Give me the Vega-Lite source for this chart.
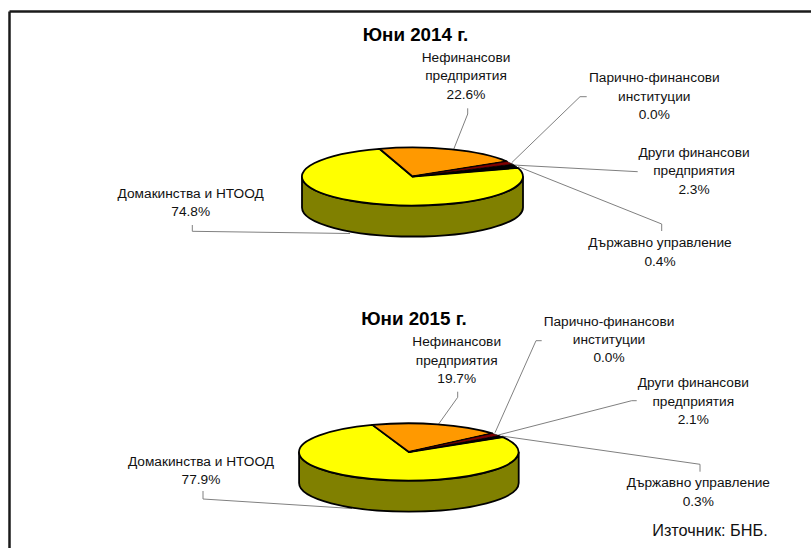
{
"$schema":"https://vega.github.io/schema/vega-lite/v6.json",
"width":802,"height":537,"autosize":{"type":"none"},"padding":{"left":9,"top":11,"right":0,"bottom":0},
"background":"white",
"config":{"view":{"stroke":null},"text":{"font":"Liberation Sans"}},
"datasets":{
"slices":[
{"id":4,"year":2014,"category":"Домакинства и НТООД","name":"Домакинства и НТООД","share":74.8},
{"id":0,"year":2014,"category":"Нефинансови предприятия","name":"Нефинансови\nпредприятия","share":22.6},
{"id":1,"year":2014,"category":"Парично-финансови институции","name":"Парично-финансови\nинституции","share":0.0},
{"id":3,"year":2014,"category":"Държавно управление","name":"Държавно управление","share":0.4},
{"id":2,"year":2014,"category":"Други финансови предприятия","name":"Други финансови\nпредприятия","share":2.3},
{"id":9,"year":2015,"category":"Домакинства и НТООД","name":"Домакинства и НТООД","share":77.9},
{"id":5,"year":2015,"category":"Нефинансови предприятия","name":"Нефинансови\nпредприятия","share":19.7},
{"id":6,"year":2015,"category":"Парично-финансови институции","name":"Парично-финансови\nинституции","share":0.0},
{"id":8,"year":2015,"category":"Държавно управление","name":"Държавно управление","share":0.3},
{"id":7,"year":2015,"category":"Други финансови предприятия","name":"Други финансови\nпредприятия","share":2.1}
],
"leaders":[
{"pt":0,"leader":"2014 Нефинансови"},{"pt":1,"leader":"2014 Нефинансови"},{"pt":2,"leader":"2014 Нефинансови"},
{"pt":3,"leader":"2014 Парично"},{"pt":4,"leader":"2014 Парично"},{"pt":5,"leader":"2014 Парично"},
{"pt":6,"leader":"2014 Други"},{"pt":7,"leader":"2014 Други"},
{"pt":8,"leader":"2014 Държавно"},{"pt":9,"leader":"2014 Държавно"},{"pt":10,"leader":"2014 Държавно"},
{"pt":11,"leader":"2014 Домакинства"},{"pt":12,"leader":"2014 Домакинства"},{"pt":13,"leader":"2014 Домакинства"},
{"pt":14,"leader":"2015 Нефинансови"},{"pt":15,"leader":"2015 Нефинансови"},{"pt":16,"leader":"2015 Нефинансови"},
{"pt":17,"leader":"2015 Парично"},{"pt":18,"leader":"2015 Парично"},{"pt":19,"leader":"2015 Парично"},
{"pt":20,"leader":"2015 Други"},{"pt":21,"leader":"2015 Други"},{"pt":22,"leader":"2015 Други"},
{"pt":23,"leader":"2015 Държавно"},{"pt":24,"leader":"2015 Държавно"},{"pt":25,"leader":"2015 Държавно"},
{"pt":26,"leader":"2015 Домакинства"},{"pt":27,"leader":"2015 Домакинства"},{"pt":28,"leader":"2015 Домакинства"}
],
"panels":[{"year":2014,"title":"Юни 2014 г."},{"year":2015,"title":"Юни 2015 г."}],
"source":[{"text":"Източник: БНБ."}]
},
"layer":[
{"data":{"name":"source"},
 "mark":{"type":"text","fontSize":16.3,"color":"#111","align":"center","baseline":"middle"},
 "encoding":{
  "x":{"datum":0.874,"type":"quantitative","scale":{"domain":[0,1]},"axis":{"orient":"top","title":null,"ticks":false,"labels":false,"grid":false,"domainColor":"#1a1a1a","domainWidth":2.5}},
  "y":{"datum":0.0317,"type":"quantitative","scale":{"domain":[0,1]},"axis":{"orient":"left","title":null,"ticks":false,"labels":false,"grid":false,"domainColor":"#1a1a1a","domainWidth":2.5}},
  "text":{"field":"text"}}},
{"data":{"name":"leaders"},
 "mark":{"type":"line","color":"#808080","strokeWidth":1,"interpolate":"linear"},
 "encoding":{
  "x":{"field":"pt","type":"quantitative","axis":null,"scale":{"nice":false,"zero":false,"domain":[0,1,2,3,4,5,6,7,8,9,10,11,12,13,14,15,16,17,18,19,20,21,22,23,24,25,26,27,28],
    "range":[458.7,458.7,444,577.7,571,502.7,628.7,504.3,652.7,652.7,509.3,183.3,183.3,341,448.7,448.7,427.5,532.7,527,486,627.7,622.7,489.3,691,691,492.7,194,194,343]}},
  "y":{"field":"pt","type":"quantitative","axis":null,"scale":{"nice":false,"zero":false,"domain":[0,1,2,3,4,5,6,7,8,9,10,11,12,13,14,15,16,17,18,19,20,21,22,23,24,25,26,27,28],
    "range":[97.3,103,140,85.7,85.7,151.7,160.7,154,220,213,155.7,214,220.3,222.5,380.7,386.3,416,329.7,329.7,421.7,389.7,389.7,424,460.7,453.3,425,480,488,497.5]}},
  "detail":{"field":"leader"},
  "order":{"field":"pt"}}},
{"data":{"name":"slices"},
 "transform":[{"filter":"datum.category === 'Домакинства и НТООД'"}],
 "mark":{"type":"point","filled":true,"opacity":1,"size":4,"fill":"#808000","stroke":"#000","strokeWidth":1.8},
 "encoding":{
  "x":{"field":"year","type":"quantitative","axis":null,"scale":{"domain":[2014,2015],"range":[403.5,399.9],"zero":false,"nice":false}},
  "y":{"field":"year","type":"quantitative","axis":null,"scale":{"domain":[2014,2015],"range":[165.5,441],"zero":false,"nice":false}},
  "shape":{"field":"year","type":"nominal","legend":null,"scale":{"domain":[2014,2015],"range":[
    "M-110.5 0A110.5 29 0 0 0 110.5 0L110.5 31A110.5 29 0 0 1 -110.5 31Z",
    "M-109.8 0A109.8 28.7 0 0 0 109.8 0L109.8 31A109.8 28.7 0 0 1 -109.8 31Z"]}}}},
{"data":{"name":"slices"},
 "mark":{"type":"point","filled":true,"opacity":1,"size":4,"stroke":"#000","strokeJoin":"round"},
 "encoding":{
  "x":{"field":"year","type":"quantitative","axis":null,"scale":{"domain":[2014,2015],"range":[403.5,399.9],"zero":false,"nice":false}},
  "y":{"field":"year","type":"quantitative","axis":null,"scale":{"domain":[2014,2015],"range":[165.5,441],"zero":false,"nice":false}},
  "color":{"field":"category","type":"nominal","legend":null,"scale":{"domain":["Нефинансови предприятия","Парично-финансови институции","Други финансови предприятия","Държавно управление","Домакинства и НТООД"],"range":["#FF9900","#000000","#800000","#000000","#FFFF00"]}},
  "strokeWidth":{"field":"category","type":"nominal","legend":null,"scale":{"type":"ordinal","domain":["Нефинансови предприятия","Парично-финансови институции","Други финансови предприятия","Държавно управление","Домакинства и НТООД"],"range":[1.8,1,0.6,1,1.8]}},
  "shape":{"field":"id","type":"nominal","legend":null,"scale":{"domain":[0,1,2,3,4,5,6,7,8,9],"range":[
    "M0 0L-33 -27.7A110.5 29 0 0 1 94.5 -15Z",
    "M0 0L94.5 -15Z",
    "M0 0L94.5 -15A110.5 29 0 0 1 100 -12.3Z",
    "M0 0L100 -12.3A110.5 29 0 0 1 105.5 -8.6Z",
    "M0 0L105.5 -8.6A110.5 29 0 1 1 -33 -27.7Z",
    "M0 0L-36.5 -27.1A109.8 28.7 0 0 1 83.5 -18.6Z",
    "M0 0L83.5 -18.6Z",
    "M0 0L83.5 -18.6A109.8 28.7 0 0 1 90 -16.4Z",
    "M0 0L90 -16.4A109.8 28.7 0 0 1 94 -14.8Z",
    "M0 0L94 -14.8A109.8 28.7 0 1 1 -36.5 -27.1Z"]}}}},
{"data":{"name":"slices"},
 "transform":[{"calculate":"datum.name + '\\n' + format(datum.share, '.1f') + '%'","as":"label"}],
 "mark":{"type":"text","lineBreak":"\n","fontSize":13.7,"lineHeight":18.4,"color":"#111","align":"center","baseline":"middle"},
 "encoding":{
  "x":{"field":"id","type":"quantitative","axis":null,"scale":{"nice":false,"zero":false,"domain":[0,1,2,3,4,5,6,7,8,9],"range":[457,645.3,685,651,181.7,447.7,600,684.3,689.3,192]}},
  "y":{"field":"id","type":"quantitative","axis":null,"scale":{"nice":false,"zero":false,"domain":[0,1,2,3,4,5,6,7,8,9],"range":[47,67.3,142,232.3,183,331.3,310.7,372.3,472.3,451]}},
  "text":{"field":"label"}}},
{"data":{"name":"panels"},
 "mark":{"type":"text","fontSize":18.8,"fontWeight":"bold","color":"#000","align":"center","baseline":"middle"},
 "encoding":{
  "x":{"field":"year","type":"quantitative","axis":null,"scale":{"domain":[2014,2015],"range":[406.5,405],"zero":false,"nice":false}},
  "y":{"field":"year","type":"quantitative","axis":null,"scale":{"domain":[2014,2015],"range":[23.5,307.5],"zero":false,"nice":false}},
  "text":{"field":"title"}}}
],
"resolve":{"scale":{"x":"independent","y":"independent","shape":"independent"},"axis":{"x":"independent","y":"independent"}}
}
